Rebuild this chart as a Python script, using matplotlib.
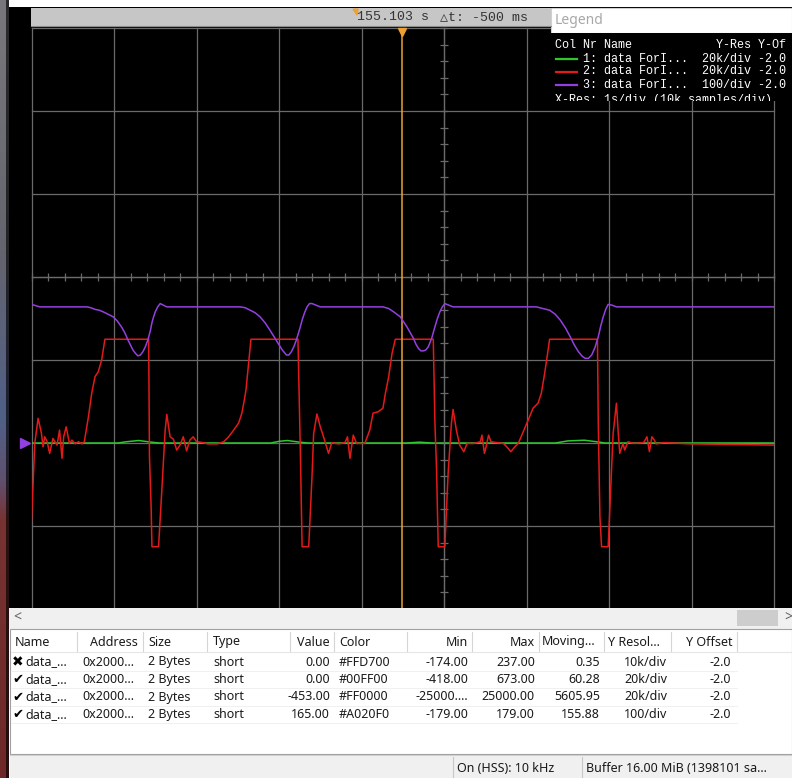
import numpy as np
import matplotlib
matplotlib.use("Agg")
import matplotlib.pyplot as plt
from matplotlib.patches import Rectangle, Polygon
from matplotlib.lines import Line2D
from matplotlib.transforms import Bbox, TransformedBbox, offset_copy

# ---- trace data (time in s, raw sample values) ----
grn_t = [0.00, 1.05, 1.15, 1.30, 1.45, 1.55, 2.90, 3.00, 3.10, 3.25, 3.35,
         4.55, 4.70, 4.85, 6.35, 6.50, 6.70, 6.85, 6.95, 9.00]
grn_v = [0, 0, 300, 600, 200, 0, 0, 400, 600, 200, 0,
         0, 200, 0, 0, 500, 670, 300, 0, 0]

red_t = [0.00, 0.04, 0.08, 0.12, 0.14, 0.16, 0.19, 0.22, 0.26, 0.31, 0.34, 0.37, 0.39,
         0.42, 0.46, 0.49, 0.53, 0.57, 0.61, 0.64, 0.69, 0.73, 0.77, 0.81, 0.85, 0.89,
         1.42, 1.43, 1.45, 1.46, 1.54, 1.58, 1.62, 1.64, 1.68, 1.72, 1.76, 1.80, 1.84,
         1.88, 1.92, 1.96, 2.00, 2.08, 2.14, 2.25, 2.33, 2.39, 2.45, 2.51, 2.55, 2.58,
         2.60, 2.62, 2.64, 2.66,
         3.23, 3.26, 3.28, 3.36, 3.40, 3.42, 3.46, 3.50, 3.54, 3.60, 3.64, 3.72, 3.80,
         3.83, 3.86, 3.90, 3.94, 4.04, 4.10, 4.14, 4.20, 4.26, 4.29, 4.33, 4.37, 4.41,
         4.87, 4.89, 4.91, 4.93, 5.01, 5.05, 5.09, 5.11, 5.15, 5.19, 5.24, 5.28, 5.36,
         5.44, 5.46, 5.49, 5.51, 5.54, 5.57, 5.64, 5.72, 5.76, 5.81, 5.86, 5.90, 5.96,
         6.02, 6.08, 6.14, 6.18, 6.22, 6.25, 6.28,
         6.86, 6.87, 6.89, 6.91, 6.99, 7.02, 7.05, 7.09, 7.11, 7.13, 7.17, 7.19, 7.23,
         7.30, 7.42, 7.46, 7.49, 7.52, 7.55, 7.57, 7.66, 8.00, 9.00]
red_v = [-18600, 0, 5950, 2400, -900, 1500, 300, -2500, 1100, -500, 3100, -3700, 1500,
         3900, -100, 700, -200, 300, -200, 300, 6300, 12000, 16000, 17200, 20000, 25000,
         25000, -3300, -15400, -25000, -25000, -11300, 3100, 6900, 1500, 900, -1700, -500, 1500,
         -1900, 700, 1500, 300, 100, -200, -200, 300, 1500, 3100, 4800, 7200, 10400,
         12800, 16800, 20800, 25000,
         25000, -3300, -25000, -25000, -8100, 2300, 7000, 3900, 1500, -2500, 100, -200, 100,
         1500, -3700, 1900, -100, -100, 3100, 7200, 7500, 8400, 12000, 16000, 21600, 25000,
         25000, 4800, -6500, -25000, -25000, -7300, 4800, 8100, 3100, -500, -2100, -100, -100,
         300, 1900, -2500, -900, 1900, 300, 100, -100, -900, -2100, -900, -100, 2700,
         5500, 8400, 9600, 12000, 16800, 20800, 25000,
         25000, 4800, -17800, -25000, -25000, -11300, 2300, 9600, 3100, -2500, -100, -1700, 300,
         -100, 100, 1500, -2100, 1500, 700, -200, 100, -200, -500]

pur_t = [0.00, 0.10, 0.67, 0.72, 0.77, 0.82, 0.87, 0.93, 0.99, 1.04, 1.09, 1.13, 1.17, 1.20,
         1.23, 1.26, 1.29, 1.32, 1.35, 1.38, 1.41, 1.44, 1.46, 1.48, 1.50, 1.53, 1.56, 1.60, 1.64,
         2.53, 2.59, 2.65, 2.71, 2.77, 2.83, 2.89, 2.94, 2.99, 3.04, 3.09, 3.12, 3.15, 3.18,
         3.21, 3.25, 3.28, 3.31, 3.34, 3.37, 3.40, 3.45, 3.50,
         4.26, 4.33, 4.39, 4.43, 4.47, 4.51, 4.55, 4.59, 4.63, 4.66, 4.69, 4.72, 4.75, 4.78,
         4.81, 4.85, 4.89, 4.92, 4.95, 4.98, 5.01, 5.06, 5.11,
         6.12, 6.20, 6.28, 6.35, 6.41, 6.47, 6.53, 6.58, 6.63, 6.67, 6.71, 6.75, 6.79, 6.83,
         6.87, 6.90, 6.93, 6.96, 6.99, 7.04, 7.09, 9.00]
pur_v = [167, 164, 164, 163, 161, 160, 158, 155, 152, 147, 140, 133, 124, 118,
         112, 108, 105, 106, 110, 116, 124, 135, 145, 152, 158, 164, 168, 166, 164,
         164, 163, 160, 157, 152, 145, 136, 128, 120, 112, 106, 106, 110, 116,
         124, 137, 148, 157, 164, 168, 168, 166, 164,
         164, 162, 158, 155, 152, 146, 140, 133, 126, 119, 114, 111, 111, 112,
         116, 126, 140, 150, 158, 164, 168, 166, 164,
         164, 162, 160, 155, 148, 139, 128, 118, 110, 105, 102, 102, 106, 115,
         128, 141, 152, 161, 167, 166, 164, 164]

cursor_t = 4.49
RED_DIV = 20000   # 20k/div
PUR_DIV = 100     # 100/div

# ---- table contents ----
col_names = ["Name", "Address", "Size", "Type", "Value", "Color", "Min", "Max",
             "Moving...", "Y Resol...", "Y Offset"]
enabled = [False, True, True, True]
values = ["0.00", "0.00", "-453.00", "165.00"]
colors = ["#FFD700", "#00FF00", "#FF0000", "#A020F0"]
mins = ["-174.00", "-418.00", "-25000....", "-179.00"]
maxs = ["237.00", "673.00", "25000.00", "179.00"]
moving = ["0.35", "60.28", "5605.95", "155.88"]
yres = ["10k/div", "20k/div", "20k/div", "100/div"]
yoff = ["-2.0", "-2.0", "-2.0", "-2.0"]
legend_rows = [("1: data ForI...", "20k/div -2.0"),
               ("2: data ForI...", "20k/div -2.0"),
               ("3: data ForI...", "100/div -2.0")]

GRID = "#6a6a6a"
GREEN = "#2ec82e"
RED = "#e31a1a"
PURPLE = "#9440e0"
ORANGE = "#f0a030"
MONO = ["Liberation Mono", "DejaVu Sans Mono", "DejaVu Sans"]
SANS = ["Noto Sans", "DejaVu Sans"]

W, H = 792, 778
fig = plt.figure(figsize=(W / 100, H / 100), dpi=100, facecolor="white")


def fx(x):
    return x / W


def fy(y):
    return 1 - y / H


def box(x0, y0, x1, y1, z=2, **kw):
    kw.setdefault("lw", 0)
    fig.add_artist(Rectangle((fx(x0), fy(y1)), (x1 - x0) / W, (y1 - y0) / H,
                             transform=fig.transFigure, zorder=z, **kw))


def seg(x0, y0, x1, y1, z=2.5, **kw):
    fig.add_artist(Line2D([fx(x0), fx(x1)], [fy(y0), fy(y1)],
                          transform=fig.transFigure, zorder=z, **kw))


def label(x, y, s, z=5, **kw):
    kw.setdefault("va", "center")
    return fig.text(fx(x), fy(y), s, zorder=z, **kw)


# left window border (desktop showing through)
lax = fig.add_axes([0, 0, 9 / W, 1])
stops_y = [0, 250, 420, 480, 520, 778]
stops_c = np.array([[120, 120, 124], [100, 100, 110], [80, 95, 135], [95, 80, 110],
                    [120, 50, 50], [110, 40, 40]]) / 255
yy = np.arange(H)
strip = np.stack([np.interp(yy, stops_y, stops_c[:, i]) for i in range(3)], axis=1)
img = np.repeat(strip[:, None, :], 9, axis=1)
img[:, 6:, :] *= 0.35
lax.imshow(img, aspect="auto", extent=(0, 9, H, 0))
lax.axis("off")

# black scope area
box(9, 7, 792, 608, z=-2, facecolor="black")

pos = [fx(31.5), fy(609), (774 - 31.5) / W, (609 - 28) / H]
ax = fig.add_axes(pos)
ax.patch.set_visible(False)
ax.set_xlim(0, 9)
ax.set_ylim(-2 * RED_DIV, 5 * RED_DIV)
for t in range(10):
    ax.axvline(t, color=GRID, lw=0.9, clip_on=False, zorder=0.5)
for k in range(-2, 6):
    ax.axhline(k * RED_DIV, color=GRID, lw=0.9, clip_on=False, zorder=0.5)
for s in ["top", "right"]:
    ax.spines[s].set_visible(False)
ax.spines["bottom"].set_position(("data", 2 * RED_DIV))
ax.spines["left"].set_position(("data", 5))
for s in ["bottom", "left"]:
    ax.spines[s].set_color(GRID)
    ax.spines[s].set_linewidth(0.9)
ax.set_xticks(range(10))
ax.set_xticks(np.arange(0, 9.01, 0.2), minor=True)
ax.set_yticks(np.arange(-2, 6) * RED_DIV)
ax.set_yticks(np.arange(-2, 5.01, 0.2) * RED_DIV, minor=True)
ax.tick_params(which="both", direction="inout", length=6, width=0.9, color=GRID,
               labelbottom=False, labelleft=False)

ax.plot(grn_t, grn_v, color=GREEN, lw=1.1, zorder=2)
ax.plot(red_t, red_v, color=RED, lw=1.1, zorder=3)
ax.axvline(cursor_t, color=ORANGE, lw=1.1, zorder=4)
ax.plot([cursor_t], [5 * RED_DIV], marker="v", ms=6, color=ORANGE, clip_on=False,
        transform=offset_copy(ax.transData, fig=fig, y=-4, units="dots"), zorder=5)

axp = fig.add_axes(pos)
axp.set_zorder(0.5)
axp.patch.set_visible(False)
axp.axis("off")
axp.set_xlim(0, 9)
axp.set_ylim(-2 * PUR_DIV, 5 * PUR_DIV)
axp.plot(pur_t, pur_v, color=PURPLE, lw=1.1)
axp.plot([0], [0], marker=">", ms=7, color=PURPLE, clip_on=False,
         transform=offset_copy(axp.transData, fig=fig, x=-7, units="dots"))

# cursor header bar
box(31, 8, 551, 26, facecolor="#c6c6c6")
seg(31, 26, 551, 26, color="#8c8c8c", lw=0.8)
fig.add_artist(Polygon([(fx(353), fy(9)), (fx(358), fy(9)), (fx(357), fy(15))],
                       closed=True, transform=fig.transFigure, color=ORANGE, zorder=3))
label(357, 17.5, "155.103 s", family=MONO, size=9.5, color="#333333")
label(440, 17.5, "\u25b3t: -500 ms", family=MONO, size=9.5, color="#333333")

# legend panel
box(551, 8, 792, 33, facecolor="white", edgecolor="#d0d0d0", lw=0.8)
label(555, 21, "Legend", family=SANS, size=10, color="#a8a8a8")
box(551, 33, 792, 101, facecolor="black")
clip = TransformedBbox(Bbox.from_extents(fx(551), fy(101), fx(792), fy(33)), fig.transFigure)
legend_texts = [label(555, 45, "Col Nr Name            Y-Res Y-Of",
                      family=MONO, size=8.5, color="white")]
for i, (name, res) in enumerate(legend_rows):
    y = 58.5 + 13 * i
    seg(556, y, 577, y, z=3, color=[GREEN, RED, PURPLE][i], lw=1.6)
    legend_texts.append(label(583, y, name + "  " + res, family=MONO, size=8.5, color="white"))
legend_texts.append(label(555, 99.5, "X-Res: 1s/div (10k samples/div)",
                          family=MONO, size=8.5, color="white"))
for t in legend_texts:
    t.set_clip_box(clip)
    t.set_clip_on(True)

# horizontal scroll bar
box(9, 608, 792, 629, facecolor="#f0f0f0")
label(13, 618, "<", family=SANS, size=10, color="#606060")
label(784, 618, ">", family=SANS, size=10, color="#606060")
box(737, 610, 778, 626, facecolor="#cdcdcd")

# variable table
box(10, 629, 792, 754, facecolor="white", edgecolor="#a0a0a0", lw=0.8)
seps = [77, 143, 207, 290, 334, 407, 472, 539, 604, 671, 737]
for x in seps:
    seg(x, 632, x, 652, color="#d5d5d5", lw=0.8)
seg(11, 652, 791, 652, color="#e6e6e6", lw=0.8)
head_x = [15, 138, 148, 213, 330, 339, 468, 535, 542, 608, 732]
head_ha = ["left", "right", "left", "left", "right", "left", "right", "right",
           "left", "left", "right"]
for name, x, ha in zip(col_names, head_x, head_ha):
    label(x, 642, name, family=SANS, size=9, ha=ha, color="#1a1a1a")

row_y = [662, 679.5, 697, 714.5]
for i, y in enumerate(row_y):
    seg(11, y + 8.7, 737, y + 8.7, color="#f0f0f0", lw=0.7)
    label(12, y, "\u2714" if enabled[i] else "\u2716", family=["DejaVu Sans"],
          size=9.5 if enabled[i] else 10, color="black")
    cells = [(25, "data_...", "left"), (82, "0x2000...", "left"), (148, "2 Bytes", "left"),
             (213, "short", "left"), (330, values[i], "right"), (339, colors[i], "left"),
             (468, mins[i], "right"), (535, maxs[i], "right"), (600, moving[i], "right"),
             (667, yres[i], "right"), (731, yoff[i], "right")]
    for x, s, ha in cells:
        label(x, y, s, family=SANS, size=9, ha=ha, color="#1a1a1a")

# status bar
box(10, 755, 792, 778, facecolor="#f0f0f0")
seg(10, 755, 792, 755, color="#d0d0d0", lw=0.8)
for x in [453, 582]:
    seg(x, 757, x, 778, color="#c8c8c8", lw=0.8)
label(457, 769, "On (HSS): 10 kHz", family=SANS, size=9, color="#1a1a1a")
label(586, 769, "Buffer 16.00 MiB (1398101 sa...", family=SANS, size=9, color="#1a1a1a")

fig.savefig("out.png", dpi=100, facecolor="white")
